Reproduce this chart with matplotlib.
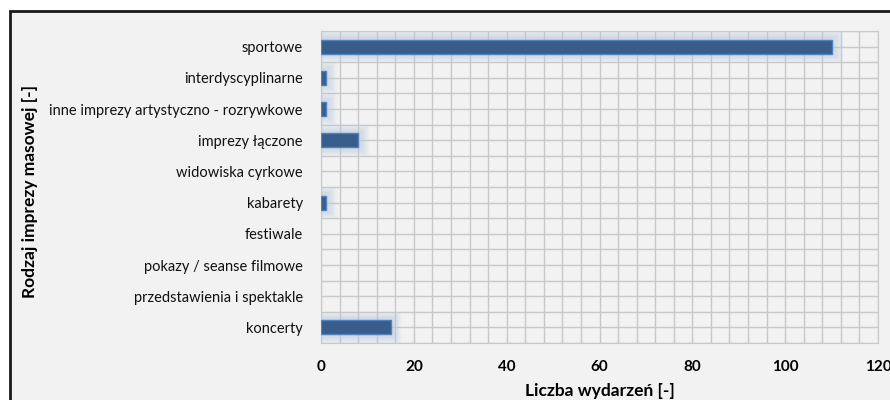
import numpy as np
import matplotlib.pyplot as plt
from matplotlib.patches import Rectangle
from matplotlib.ticker import MultipleLocator

# data (top to bottom as in the chart)
kategorie = ["sportowe", "interdyscyplinarne", "inne imprezy artystyczno - rozrywkowe",
             "imprezy łączone", "widowiska cyrkowe", "kabarety", "festiwale",
             "pokazy / seanse filmowe", "przedstawienia i spektakle", "koncerty"]
liczba = [110, 1, 1, 8, 0, 1, 0, 0, 0, 15]

plt.rcParams['font.family'] = ['Lato', 'DejaVu Sans']

fig = plt.figure(figsize=(8.9, 4.0), dpi=100)
fig.patch.set_facecolor('white')

# gray chart area with dark frame (cut off on the right/bottom)
fig.patches.append(Rectangle((10 / 890, -0.1), 1.0, 1 - 10.5 / 400 + 0.1,
                             transform=fig.transFigure, facecolor='#f2f2f2',
                             edgecolor='#1a1a1a', linewidth=2, zorder=-10))

ax = fig.add_axes([321 / 890, 1 - 343 / 400, (878 - 321) / 890, (343 - 31) / 400])
ax.set_facecolor('#f2f2f2')

y = np.arange(len(kategorie))[::-1]

# soft glow around bars
for k in range(8):
    h = 0.45 + 0.07 * (8 - k)
    ext = 0.3 * (8 - k)
    w = [v + ext if v > 0 else 0 for v in liczba]
    ax.barh(y, w, height=h, color='#b8c9e0', alpha=0.1, linewidth=0, zorder=2)

edges = ['#4f81bd' if v > 0 else 'none' for v in liczba]
ax.barh(y, liczba, height=0.45, color='#385d8a', edgecolor=edges,
        linewidth=1, zorder=3)

ax.set_xlim(0, 120)
ax.set_ylim(-0.5, len(kategorie) - 0.5)
ax.xaxis.set_major_locator(MultipleLocator(20))
ax.xaxis.set_minor_locator(MultipleLocator(4))
ax.yaxis.set_minor_locator(MultipleLocator(0.5))
ax.set_yticks(y)
ax.set_yticklabels(kategorie, fontsize=10.5, color='#111111')
ax.grid(which='both', color='#c8c8c8', linewidth=1, zorder=1)
ax.set_axisbelow(True)
ax.tick_params(axis='both', which='both', length=0)
ax.tick_params(axis='y', pad=13)
ax.tick_params(axis='x', pad=12)
for lbl in ax.get_xticklabels():
    lbl.set_fontweight('bold')
    lbl.set_fontsize(11)
for s in ax.spines.values():
    s.set_color('#c8c8c8')

ax.set_xlabel("Liczba wydarzeń [-]", fontsize=12.5, fontweight='bold', labelpad=7)
fig.text(30 / 890, 1 - 192 / 400, "Rodzaj imprezy masowej [-]", rotation=90,
         fontsize=12.5, fontweight='bold', ha='center', va='center')

fig.savefig("out.png", dpi=100, facecolor=fig.get_facecolor())
